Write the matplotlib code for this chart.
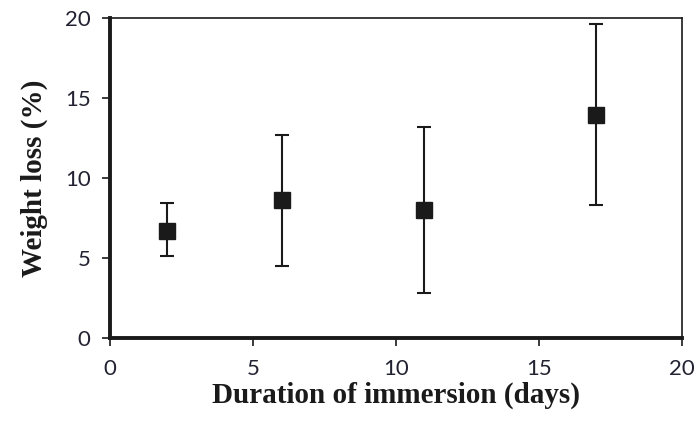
import matplotlib
matplotlib.use("Agg")
import matplotlib.pyplot as plt

days = [2, 6, 11, 17]
loss = [6.7, 8.6, 8.0, 13.9]
err_low = [1.6, 4.1, 5.2, 5.6]
err_high = [1.7, 4.1, 5.2, 5.7]

fig = plt.figure(figsize=(6.97, 4.26), dpi=100)
ax = fig.add_axes([0.158, 0.207, 0.820, 0.751])

ax.errorbar(days, loss, yerr=[err_low, err_high], fmt='s', color='#1a1a1a',
            markersize=12, ecolor='#1a1a1a', elinewidth=1.5, capsize=5, capthick=1.5)

ax.set_xlim(0, 20)
ax.set_ylim(0, 20)
ax.set_xticks([0, 5, 10, 15, 20])
ax.set_yticks([0, 5, 10, 15, 20])

for s in ['left', 'bottom']:
    ax.spines[s].set_linewidth(2.8)
for s in ['top', 'right']:
    ax.spines[s].set_linewidth(1.2)
for s in ax.spines.values():
    s.set_color('#1a1a1a')

ax.tick_params(direction='out', length=6, width=1.2, color='#1a1a1a',
               labelsize=16, labelcolor='#222233')
ax.tick_params(axis='x', pad=9)
ax.tick_params(axis='y', pad=8)
for lab in ax.get_xticklabels() + ax.get_yticklabels():
    lab.set_fontfamily('Lato')

ax.set_xlabel('Duration of immersion (days)', fontsize=21, fontweight='bold',
              family='Liberation Serif', color='#1a1a1a', labelpad=2)
ax.set_ylabel('Weight loss (%)', fontsize=21, fontweight='bold',
              family='Liberation Serif', color='#1a1a1a', labelpad=12)

fig.savefig('out.png', dpi=100)
